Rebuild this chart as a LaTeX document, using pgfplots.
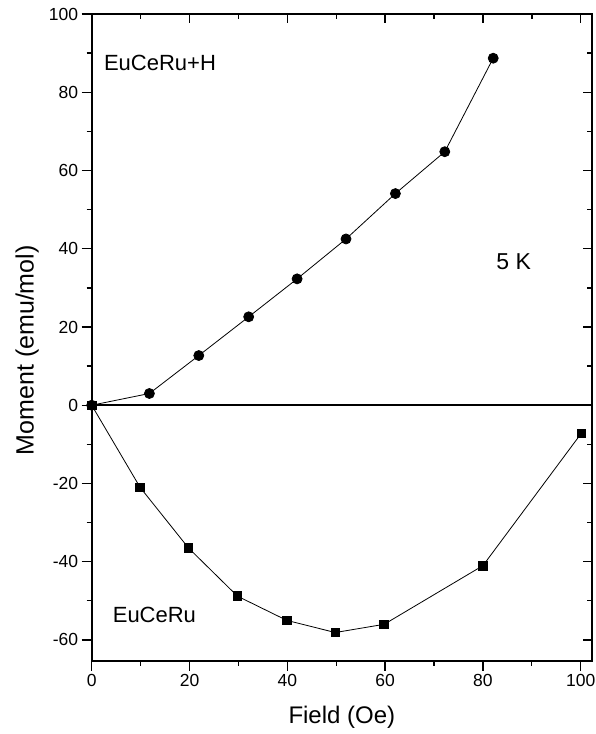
\documentclass[border=0pt]{standalone}
\usepackage{fontspec}
\setmainfont{Liberation Sans}
\usepackage{pgfplots}
\pgfplotsset{compat=1.18}
\begin{document}
\begin{tikzpicture}
\pgfplotsset{
  common/.style={
    scale only axis, width=500.3pt, height=646.7pt,
    xmin=0, xmax=102.3, ymin=-65.3, ymax=100,
    at={(0,0)}, anchor=south west,
    xtick={0,20,...,100}, ytick={-60,-40,...,100},
    minor x tick num=1, minor y tick num=1,
    axis line style={line width=2pt},
    every tick/.style={black, line width=1.3pt},
    /pgf/number format/assume math mode=true,
    tick label style={font=\fontsize{17.5}{20}\selectfont},
    clip=false,
  }
}
\begin{axis}[common,
  tick align=outside, xtick pos=bottom, ytick pos=left,
  major tick length=10pt, minor tick length=5pt,
  xlabel={Field (Oe)}, ylabel={Moment (emu/mol)},
  xlabel style={font=\fontsize{24}{28}\selectfont, at={(axis description cs:0.5,-0.088)}, anchor=center},
  ylabel style={font=\fontsize{25}{28}\selectfont, at={(axis description cs:-0.129,0.48)}, anchor=center},
]
\addplot[black, line width=1.5pt, no marks] coordinates {(0,0) (102.3,0)};
\addplot[black, line width=0.8pt, mark=*, mark size=5pt, mark options={solid, fill=black}]
  coordinates {(0,0) (11.8,3.0) (21.9,12.7) (32.1,22.6) (42.0,32.3) (52.0,42.5) (62.1,54.1) (72.2,64.8) (82.1,88.7)};
\addplot[black, line width=0.8pt, mark=square*, mark size=4.3pt, mark options={solid, fill=black}]
  coordinates {(0,0) (9.9,-21.0) (19.8,-36.5) (29.8,-48.8) (39.9,-55.0) (49.8,-58.1) (59.8,-56.0) (80.0,-41.0) (100.1,-7.2)};
\node[anchor=west, font=\fontsize{22}{26}\selectfont] at (axis cs:1.8,87.5) {EuCeRu+H};
\node[anchor=west, font=\fontsize{22}{26}\selectfont] at (axis cs:3.6,-53.7) {EuCeRu};
\node[anchor=center, font=\fontsize{23}{26}\selectfont] at (axis cs:86.3,36.6) {5 K};
\end{axis}
\begin{axis}[common,
  tick align=inside, xtick pos=top, ytick pos=right,
  major tick length=9pt, minor tick length=5pt,
  xticklabels={}, yticklabels={},
]
\end{axis}
\pgfresetboundingbox
\useasboundingbox (-91.7pt,-73.3pt) rectangle (503.3pt,660.7pt);
\end{tikzpicture}
\end{document}
